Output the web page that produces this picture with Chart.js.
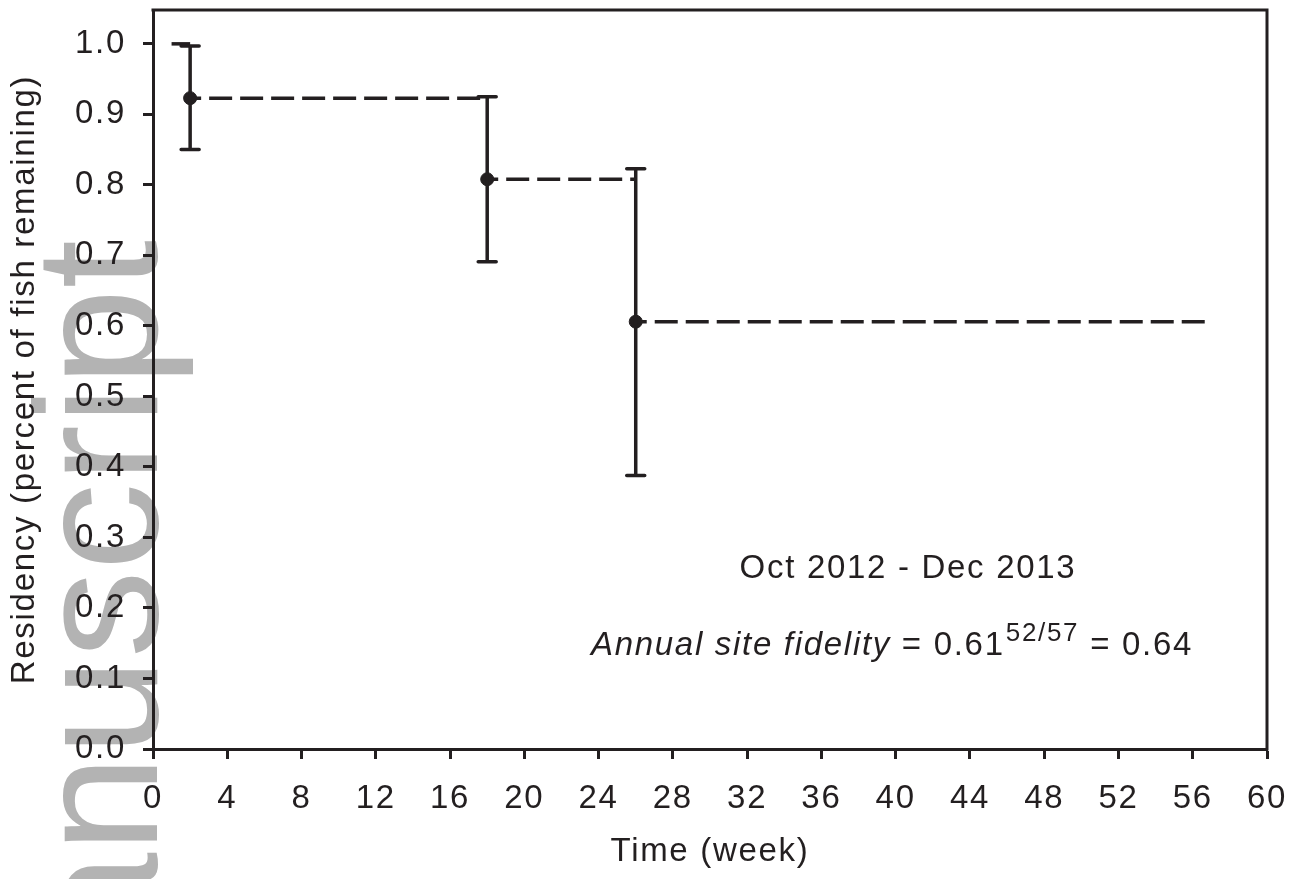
<!DOCTYPE html>
<html>
<head>
<meta charset="utf-8">
<script src="https://cdn.jsdelivr.net/npm/chart.js@4.4.0/dist/chart.umd.min.js"></script>
<style>
html,body{margin:0;padding:0;background:#ffffff;}
#wrap{width:1307px;height:879px;position:relative;}
</style>
</head>
<body>
<div id="wrap"><canvas id="c" width="1307" height="879"></canvas></div>
<script>
// ---- data ----
const weeks = [2, 18, 26];
const residency = [0.923, 0.808, 0.606];
const lowerCI = [0.850, 0.691, 0.388];
const upperCI = [0.997, 0.925, 0.823];
const startWeeks = [1, 2];
const startResidency = [1.0, 1.0];
const lastWeek = 57;
const xTicks = [0, 4, 8, 12, 16, 20, 24, 28, 32, 36, 40, 44, 48, 52, 56, 60];
const yTicks = [0.0, 0.1, 0.2, 0.3, 0.4, 0.5, 0.6, 0.7, 0.8, 0.9, 1.0];
const periodLabel = 'Oct 2012 - Dec 2013';
const fidelityLabel = 'Annual site fidelity';
const fidelityBase = ' = 0.61';
const fidelityExponent = '52/57';
const fidelityResult = ' = 0.64';
const yTitle = 'Residency (percent of fish remaining)';
const xTitle = 'Time (week)';
const watermark = 'Manuscript';

const INK = '#231f20';
const FONT = "'Liberation Sans', Arial, Helvetica, sans-serif";
const SPACING = '1.7px';
const FSIZE = 33;

// dashed survival steps built from the arrays
const stepSets = weeks.map((w, i) => ({
  type: 'line',
  data: [{x: w, y: residency[i]}, {x: i < weeks.length - 1 ? weeks[i + 1] : lastWeek, y: residency[i]}],
  borderColor: INK,
  borderWidth: 3.5,
  borderDash: [23, 8],
  borderDashOffset: 12,
  pointRadius: 0,
  fill: false,
  tension: 0
}));

const startSet = {
  type: 'line',
  data: startWeeks.map((w, i) => ({x: w, y: startResidency[i]})),
  borderColor: INK,
  borderWidth: 3.5,
  pointRadius: 0,
  fill: false
};

const pointSet = {
  type: 'scatter',
  data: weeks.map((w, i) => ({x: w, y: residency[i]})),
  backgroundColor: INK,
  borderColor: INK,
  pointRadius: 6.5,
  pointHoverRadius: 6.5,
  showLine: false
};

function setSpacing(chart) { chart.ctx.letterSpacing = SPACING; }

const spacingPlugin = {
  id: 'spacing',
  beforeUpdate: setSpacing,
  beforeLayout: setSpacing,
  beforeDraw: setSpacing
};

const watermarkPlugin = {
  id: 'watermark',
  beforeDraw(chart) {
    const ctx = chart.ctx;
    ctx.save();
    ctx.letterSpacing = '0px';
    ctx.fillStyle = '#b3b3b3';
    ctx.font = '175px ' + FONT;
    ctx.translate(157, 240);
    ctx.rotate(-Math.PI / 2);
    ctx.textAlign = 'right';
    ctx.textBaseline = 'alphabetic';
    ctx.fillText(watermark, 0, 0);
    ctx.restore();
  }
};

const errorBarPlugin = {
  id: 'errorBars',
  afterDatasetsDraw(chart) {
    const ctx = chart.ctx;
    const xs = chart.scales.x, ys = chart.scales.y;
    ctx.save();
    ctx.strokeStyle = INK;
    ctx.lineWidth = 3.5;
    ctx.lineCap = 'round';
    weeks.forEach((w, i) => {
      const px = xs.getPixelForValue(w);
      const lo = ys.getPixelForValue(lowerCI[i]);
      const hi = ys.getPixelForValue(upperCI[i]);
      ctx.beginPath();
      ctx.moveTo(px, lo); ctx.lineTo(px, hi);
      ctx.moveTo(px - 9, lo); ctx.lineTo(px + 9, lo);
      ctx.moveTo(px - 9, hi); ctx.lineTo(px + 9, hi);
      ctx.stroke();
    });
    ctx.restore();
  }
};

const framePlugin = {
  id: 'frame',
  afterDraw(chart) {
    const ctx = chart.ctx;
    const a = chart.chartArea;
    ctx.save();
    ctx.strokeStyle = INK;
    ctx.lineWidth = 3;
    ctx.beginPath();
    ctx.moveTo(a.left - 1.5, a.top);
    ctx.lineTo(a.right, a.top);
    ctx.lineTo(a.right, a.bottom + 1.5);
    ctx.stroke();

    // annotation text
    ctx.letterSpacing = SPACING;
    ctx.fillStyle = INK;
    ctx.textBaseline = 'alphabetic';
    ctx.font = FSIZE + 'px ' + FONT;
    ctx.textAlign = 'center';
    ctx.fillText(periodLabel, 908, 578);

    ctx.textAlign = 'left';
    let x = 591;
    const base = 655;
    ctx.font = 'italic ' + FSIZE + 'px ' + FONT;
    ctx.fillText(fidelityLabel, x, base);
    x += ctx.measureText(fidelityLabel).width;
    ctx.font = FSIZE + 'px ' + FONT;
    ctx.fillText(fidelityBase, x, base);
    x += ctx.measureText(fidelityBase).width;
    ctx.font = '26px ' + FONT;
    ctx.fillText(fidelityExponent, x + 1, base - 14);
    x += ctx.measureText(fidelityExponent).width + 1;
    ctx.font = FSIZE + 'px ' + FONT;
    ctx.fillText(fidelityResult, x, base);
    ctx.restore();
  }
};

const axisCommon = {
  border: {display: true, color: INK, width: 3},
  grid: {display: true, drawOnChartArea: false, drawTicks: true, tickLength: 10, tickWidth: 3, tickColor: INK}
};

new Chart(document.getElementById('c'), {
  type: 'scatter',
  data: {datasets: [startSet, ...stepSets, pointSet]},
  options: {
    responsive: false,
    animation: false,
    events: [],
    layout: {padding: {top: 10, right: 40, left: 0, bottom: 0}},
    plugins: {legend: {display: false}, tooltip: {enabled: false}},
    scales: {
      x: {
        type: 'linear',
        min: 0, max: 60,
        ...axisCommon,
        afterFit(scale) { scale.height = 130; scale.paddingLeft = 0; scale.paddingRight = 0; },
        afterBuildTicks(scale) { scale.ticks = xTicks.map(v => ({value: v})); },
        ticks: {
          color: INK,
          font: {family: FONT, size: FSIZE},
          padding: 20,
          maxRotation: 0,
          autoSkip: false,
          callback: v => String(v)
        },
        title: {
          display: true,
          text: xTitle,
          color: INK,
          font: {family: FONT, size: FSIZE},
          padding: {top: 0, bottom: 7}
        }
      },
      y: {
        type: 'linear',
        min: 0, max: 1.048,
        ...axisCommon,
        afterFit(scale) { scale.width = 153; scale.paddingTop = 0; scale.paddingBottom = 0; },
        afterBuildTicks(scale) { scale.ticks = yTicks.map(v => ({value: v})); },
        ticks: {
          color: INK,
          font: {family: FONT, size: FSIZE},
          padding: 17,
          autoSkip: false,
          callback: v => Number(v).toFixed(1)
        },
        title: {
          display: true,
          text: yTitle,
          color: INK,
          font: {family: FONT, size: FSIZE},
          padding: {top: 5, bottom: 0}
        }
      }
    }
  },
  plugins: [spacingPlugin, watermarkPlugin, errorBarPlugin, framePlugin]
});
</script>
</body>
</html>
